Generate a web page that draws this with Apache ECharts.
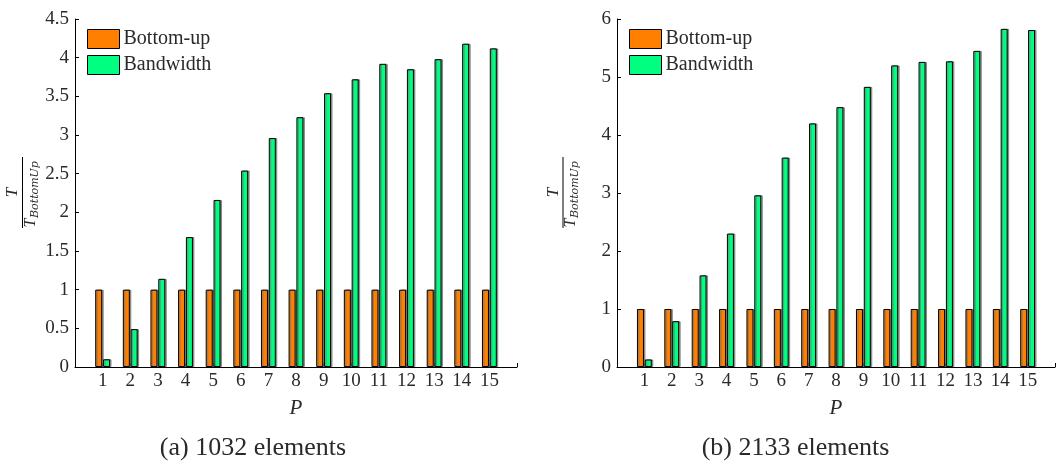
<!DOCTYPE html>
<html>
<head>
<meta charset="utf-8">
<script src="https://cdn.jsdelivr.net/npm/echarts@6/dist/echarts.min.js"></script>
<style>
html,body{margin:0;padding:0;background:#fff;}
#c{width:1058px;height:470px;}
</style>
</head>
<body>
<div id="c"></div>
<script>
// ---- data ----
const P = [1, 2, 3, 4, 5, 6, 7, 8, 9, 10, 11, 12, 13, 14, 15];
const seriesNames = ['Bottom-up', 'Bandwidth'];
// (a) 1032 elements
const bottomUpA = [1, 1, 1, 1, 1, 1, 1, 1, 1, 1, 1, 1, 1, 1, 1];
const bandwidthA = [0.10, 0.49, 1.14, 1.68, 2.16, 2.54, 2.96, 3.23, 3.54, 3.72, 3.92, 3.85, 3.98, 4.18, 4.12];
// (b) 2133 elements
const bottomUpB = [1, 1, 1, 1, 1, 1, 1, 1, 1, 1, 1, 1, 1, 1, 1];
const bandwidthB = [0.13, 0.79, 1.58, 2.30, 2.96, 3.61, 4.20, 4.48, 4.83, 5.20, 5.26, 5.27, 5.45, 5.83, 5.81];
const captions = ['(a) 1032 elements', '(b) 2133 elements'];
const yMaxA = 4.5, yStepA = 0.5;
const yMaxB = 6, yStepB = 1;
const xLabel = 'P';

// ---- style ----
const FONT = '"Liberation Serif", "DejaVu Serif", serif';
const ORANGE = '#FF8000';
const GREEN = '#00FF80';
const TXT = '#2a2a2a';

const chart = echarts.init(document.getElementById('c'), null, {renderer: 'canvas'});

function xAxisCfg(gi) {
  return {
    type: 'value', gridIndex: gi, min: 0, max: 16, interval: 1,
    name: xLabel, nameLocation: 'middle', nameGap: 31,
    nameTextStyle: {fontFamily: FONT, fontStyle: 'italic', fontSize: 21, color: TXT},
    axisLine: {show: true, onZero: false, lineStyle: {color: '#000', width: 1}},
    axisTick: {show: true, inside: true, length: 4, lineStyle: {color: '#000'}},
    axisLabel: {
      fontFamily: FONT, fontSize: 19, color: TXT, margin: 5,
      formatter: v => (v >= 1 && v <= 15) ? String(v) : ''
    },
    splitLine: {show: false}
  };
}
function yAxisCfg(gi, max, step) {
  return {
    type: 'value', gridIndex: gi, min: 0, max: max, interval: step,
    axisLine: {show: true, lineStyle: {color: '#000', width: 1}},
    axisTick: {show: true, inside: true, length: 4, lineStyle: {color: '#000'}},
    axisLabel: {fontFamily: FONT, fontSize: 19, color: TXT, margin: 6},
    splitLine: {show: false}
  };
}
function barSeries(name, color, gi, vals) {
  return {
    type: 'bar', name: name, xAxisIndex: gi, yAxisIndex: gi,
    data: P.map((p, i) => [p, vals[i]]),
    barWidth: 7, barGap: '12%',
    itemStyle: {
      color: color, borderColor: '#000', borderWidth: 1,
      shadowColor: 'rgba(120,120,120,0.8)', shadowOffsetX: 1.5, shadowOffsetY: 0, shadowBlur: 0
    },
    emphasis: {disabled: true},
    animation: false
  };
}
function legendCfg(left) {
  return {
    left: left, top: 29, orient: 'vertical', padding: 0,
    itemWidth: 32, itemHeight: 19, itemGap: 6,
    data: seriesNames,
    icon: 'rect',
    selectedMode: false,
    itemStyle: {borderColor: '#000', borderWidth: 1, shadowColor: 'transparent', shadowOffsetX: 0},
    textStyle: {fontFamily: FONT, fontSize: 20, color: TXT, padding: [0, 0, 0, -1]}
  };
}
function fraction(xLine, yCenter) {
  return {
    type: 'group', x: xLine, y: yCenter, rotation: Math.PI / 2,
    children: [
      {type: 'line', shape: {x1: -35.5, y1: 0, x2: 35.5, y2: 0}, style: {stroke: '#000', lineWidth: 1}},
      {type: 'text', x: 0, y: -1, style: {text: 'T', font: 'italic 17px ' + FONT, fill: TXT, align: 'center', verticalAlign: 'bottom'}},
      {type: 'text', x: -35, y: 0, style: {text: 'T', font: 'italic 16px ' + FONT, fill: TXT, align: 'left', verticalAlign: 'top'}},
      {type: 'text', x: -25.5, y: 7, style: {text: 'BottomUp', font: 'italic 11px "DejaVu Serif", serif', fill: TXT, align: 'left', verticalAlign: 'top'}}
    ]
  };
}

const option = {
  backgroundColor: '#fff',
  animation: false,
  grid: [
    {left: 75, top: 19, width: 442, height: 348, containLabel: false},
    {left: 617, top: 19, width: 441, height: 348, containLabel: false}
  ],
  xAxis: [xAxisCfg(0), xAxisCfg(1)],
  yAxis: [yAxisCfg(0, yMaxA, yStepA), yAxisCfg(1, yMaxB, yStepB)],
  legend: [legendCfg(87), legendCfg(629)],
  series: [
    barSeries(seriesNames[0], ORANGE, 0, bottomUpA),
    barSeries(seriesNames[1], GREEN, 0, bandwidthA),
    barSeries(seriesNames[0], ORANGE, 1, bottomUpB),
    barSeries(seriesNames[1], GREEN, 1, bandwidthB)
  ],
  graphic: [
    fraction(22.5, 192.5),
    fraction(563, 192.5),
    {type: 'text', x: 253, y: 448, style: {text: captions[0], font: '26px ' + FONT, fill: TXT, align: 'center', verticalAlign: 'middle'}},
    {type: 'text', x: 795.5, y: 448, style: {text: captions[1], font: '26px ' + FONT, fill: TXT, align: 'center', verticalAlign: 'middle'}}
  ]
};
chart.setOption(option);
</script>
</body>
</html>
